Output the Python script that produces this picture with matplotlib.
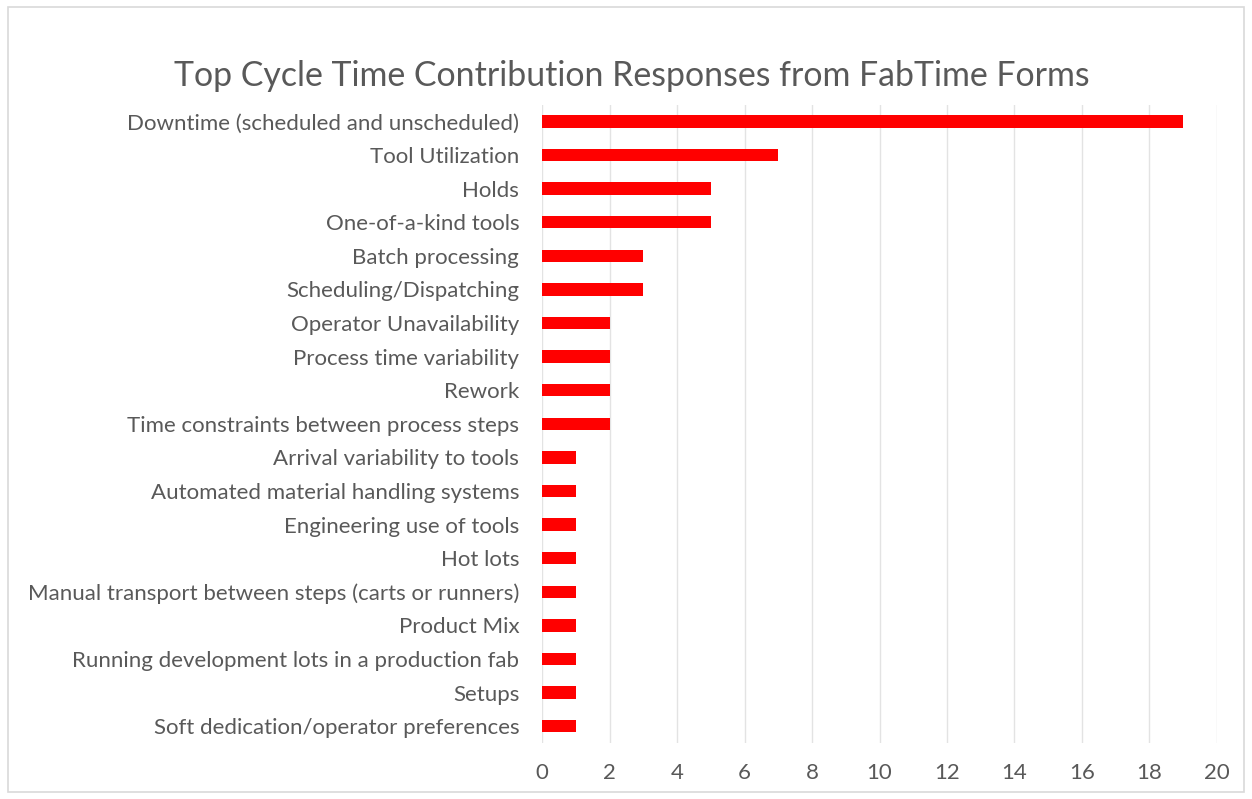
import matplotlib
matplotlib.use("Agg")
import matplotlib.pyplot as plt
from matplotlib.patches import Rectangle

categories = [
    "Downtime (scheduled and unscheduled)",
    "Tool Utilization",
    "Holds",
    "One-of-a-kind tools",
    "Batch processing",
    "Scheduling/Dispatching",
    "Operator Unavailability",
    "Process time variability",
    "Rework",
    "Time constraints between process steps",
    "Arrival variability to tools",
    "Automated material handling systems",
    "Engineering use of tools",
    "Hot lots",
    "Manual transport between steps (carts or runners)",
    "Product Mix",
    "Running development lots in a production fab",
    "Setups",
    "Soft dedication/operator preferences",
]
values = [19, 7, 5, 5, 3, 3, 2, 2, 2, 2, 1, 1, 1, 1, 1, 1, 1, 1, 1]
xticks = [0, 2, 4, 6, 8, 10, 12, 14, 16, 18, 20]

plt.rcParams['font.family'] = ['Lato', 'DejaVu Sans']
txt = '#595959'

fig = plt.figure(figsize=(12.52, 7.99), dpi=100)
ax = fig.add_axes([0.433, 0.070, 0.539, 0.799])

pos = list(range(len(categories)))
ax.barh(pos, values, height=0.37, color='#ff0000', zorder=3)
ax.set_ylim(len(categories) - 0.5, -0.5)
ax.set_xlim(0, 20)
ax.set_xticks(xticks)
ax.set_yticks(pos)
ax.set_yticklabels(categories, fontsize=16, color=txt)
ax.tick_params(axis='x', labelsize=16, labelcolor=txt, length=0, pad=14)
ax.tick_params(axis='y', length=0, pad=16.5)
ax.grid(axis='x', color='#e3e3e3', linewidth=1, zorder=0)
for s in ax.spines.values():
    s.set_visible(False)

fig.text(0.505, 0.905, "Top Cycle Time Contribution Responses from FabTime Forms",
         ha='center', va='center', fontsize=24.4, color=txt)

fig.patches.append(Rectangle((0.006, 0.009), 0.988, 0.982, transform=fig.transFigure,
                             fill=False, edgecolor='#d9d9d9', linewidth=1.2))

fig.savefig("out.png", dpi=100)
